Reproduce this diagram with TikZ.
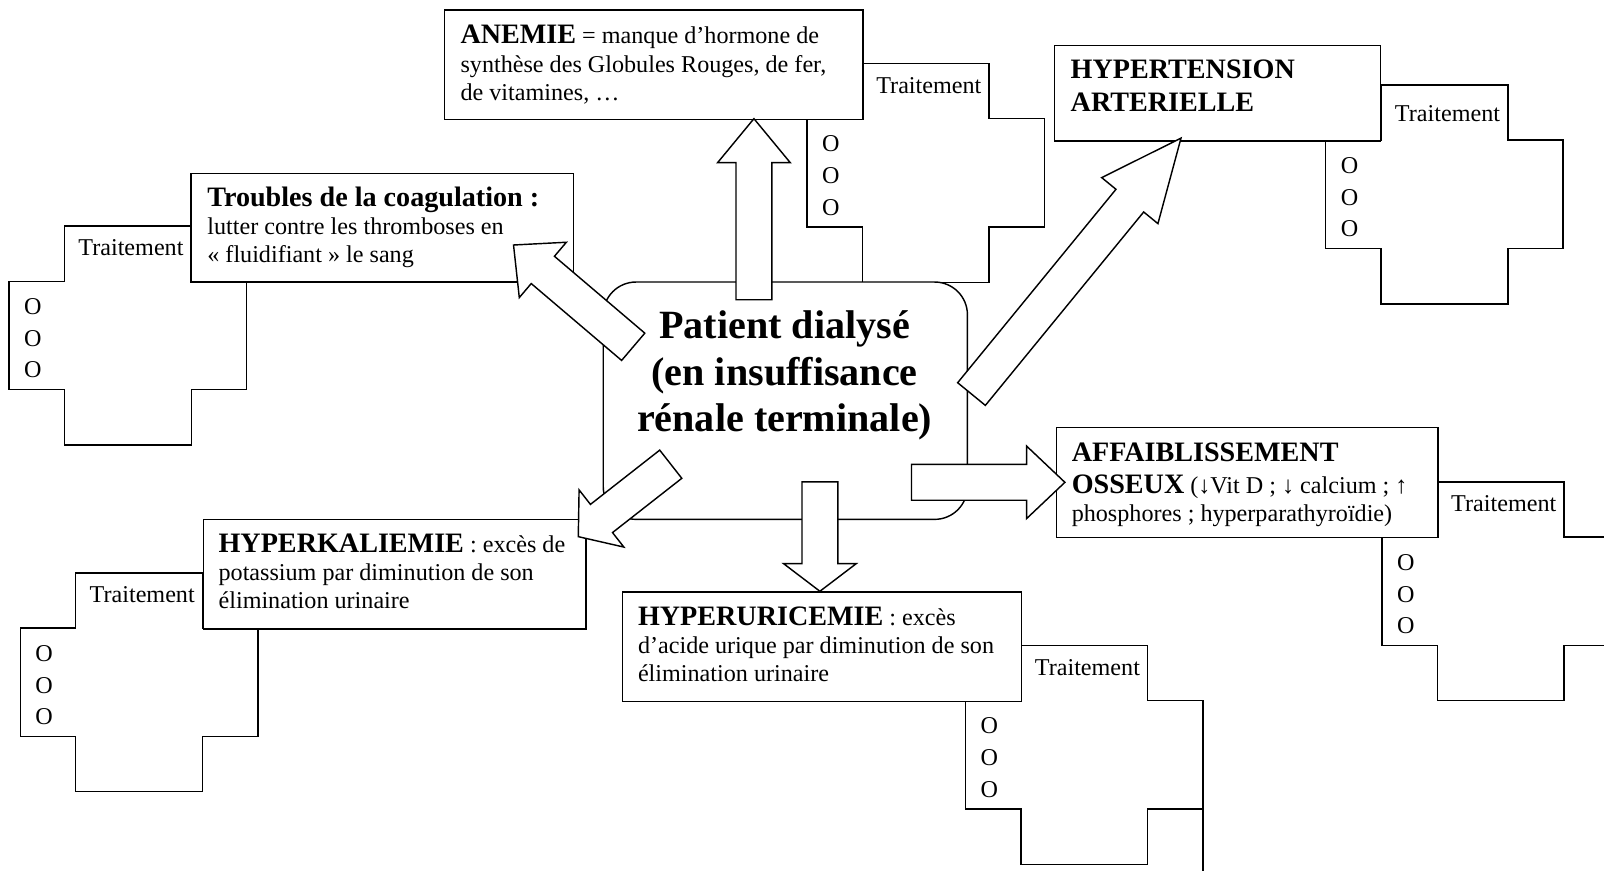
\documentclass[tikz,border=0pt]{standalone}
\usepackage{fontspec}
\setmainfont{Liberation Serif}
\usetikzlibrary{calc}

\newcommand{\petit}{\fontsize{11.8}{13.75}\selectfont}
\newcommand{\titre}[1]{{\fontsize{13.75}{13.75}\selectfont\bfseries #1}}

% fat white arrow: [head length]{tail}{tip}
\newcommand{\fleche}[3][18pt]{%
  \coordinate (fh) at ($(#3)!#1!(#2)$);
  \draw[fleche] ($(#2)!8.75pt!90:(#3)$) -- ($(fh)!8.75pt!90:(#3)$)
    -- ($(fh)!17.75pt!90:(#3)$) -- (#3) -- ($(fh)!17.75pt!-90:(#3)$)
    -- ($(fh)!8.75pt!-90:(#3)$) -- ($(#2)!8.75pt!-90:(#3)$) -- cycle;
}

% treatment cross: [label lift]{name}{x of column}{y of bar}
\newcommand{\croix}[4][25]{%
  \draw[croix] (#3,#4-54) -- ++(124,0) -- ++(0,54) -- ++(54,0) -- ++(0,106)
    -- ++(-54,0) -- ++(0,54) -- ++(-124,0) -- ++(0,-54) -- ++(-54,0)
    -- ++(0,-106) -- ++(54,0) -- cycle;
  \node[texte, anchor=base] (#2-trt) at (#3+65,#4-#1) {Traitement};
  \node[texte, anchor=base west] (#2-o1) at (#3-40,#4+32.5) {O};
  \node[texte, anchor=base west] (#2-o2) at (#3-40,#4+63.5) {O};
  \node[texte, anchor=base west] (#2-o3) at (#3-40,#4+94.5) {O};
}

\begin{document}
\begin{tikzpicture}[x=0.5pt, y=-0.5pt, line width=0.7pt,
    box/.style={draw, fill=white, inner sep=0pt, anchor=north west},
    texte/.style={inner sep=0pt, align=left, font=\petit},
    croix/.style={draw},
    fleche/.style={draw, fill=white, line join=miter}]
    \useasboundingbox (0,0) rectangle (1568,851);
    \clip (0,0) rectangle (1568,851);

    % Draw the treatment crosses
    \croix{coag}{63}{275}
    \croix{anemie}{843}{116}
    \croix[18]{hta}{1350}{137}
    \croix{kal}{74}{614}
    \croix{uric}{998}{685}
    \croix{os}{1405}{525}
    \draw (1176,791) -- (1176,851);

    % Draw the boxes
    \node[box, minimum width=204.5pt, minimum height=53.5pt] (anemie) at (434,9) {};
    \node[box, minimum width=187pt, minimum height=53pt] (coag) at (186,169) {};
    \node[box, minimum width=159.5pt, minimum height=46.5pt] (hta) at (1030,44) {};
    \node[box, minimum width=186.5pt, minimum height=54pt] (os) at (1032,417) {};
    \node[box, minimum width=187pt, minimum height=53.5pt] (kal) at (198,507) {};
    \node[box, minimum width=195pt, minimum height=53.5pt] (uric) at (608,578) {};
    \node[box, rounded corners=16pt, minimum width=178pt, minimum height=116pt] (patient) at (589,275) {};

    % Draw the texts (anchored on their last line)
    \node[texte, anchor=base west] (anemie-txt) at ([shift={(15.5,89)}]anemie.north west)
        {\titre{ANEMIE} = manque d’hormone de\\synthèse des Globules Rouges, de fer,\\de vitamines, …};
    \node[texte, anchor=base west] (coag-txt) at ([shift={(16,88)}]coag.north west)
        {\titre{Troubles de la coagulation :}\\lutter contre les thromboses en\\« fluidifiant » le sang};
    \node[texte, anchor=base west] (hta-txt) at ([shift={(16,65)}]hta.north west)
        {\titre{HYPERTENSION}\\[2.25pt]\titre{ARTERIELLE}};
    \node[texte, anchor=base west] (os-txt) at ([shift={(15,93)}]os.north west)
        {\titre{AFFAIBLISSEMENT}\\[1.75pt]\titre{OSSEUX} (↓Vit D ; ↓ calcium ; ↑\\phosphores ; hyperparathyroïdie)};
    \node[texte, anchor=base west] (kal-txt) at ([shift={(15,88)}]kal.north west)
        {\titre{HYPERKALIEMIE} : excès de\\potassium par diminution de son\\élimination urinaire};
    \node[texte, anchor=base west] (uric-txt) at ([shift={(15,88)}]uric.north west)
        {\titre{HYPERURICEMIE} : excès\\d’acide urique par diminution de son\\élimination urinaire};
    \node[align=center, inner sep=0pt, anchor=base, font=\fontsize{19.6}{22.75}\selectfont\bfseries]
        (patient-txt) at (767,422) {Patient dialysé\\(en insuffisance\\rénale terminale)};

    % Draw the arrows
    \coordinate (p-anemie) at (737,293);
    \coordinate (q-anemie) at (737,116);
    \coordinate (p-coag) at (619,339);
    \coordinate (q-coag) at (502,239.5);
    \coordinate (p-hta) at (949.7,385.2);
    \coordinate (q-hta) at (1154.5,135);
    \coordinate (p-kal) at (655.7,453.8);
    \coordinate (q-kal) at (565.3,524.6);
    \coordinate (p-uric) at (801.5,471);
    \coordinate (q-uric) at (801.5,578);
    \coordinate (p-os) at (891,471.5);
    \coordinate (q-os) at (1041,471.5);
    \fleche[21.5pt]{p-anemie}{q-anemie}
    \fleche[18.8pt]{p-coag}{q-coag}
    \fleche[39.5pt]{p-hta}{q-hta}
    \fleche[14.4pt]{p-kal}{q-kal}
    \fleche[13.5pt]{p-uric}{q-uric}
    \fleche[18.75pt]{p-os}{q-os}
\end{tikzpicture}
\end{document}
